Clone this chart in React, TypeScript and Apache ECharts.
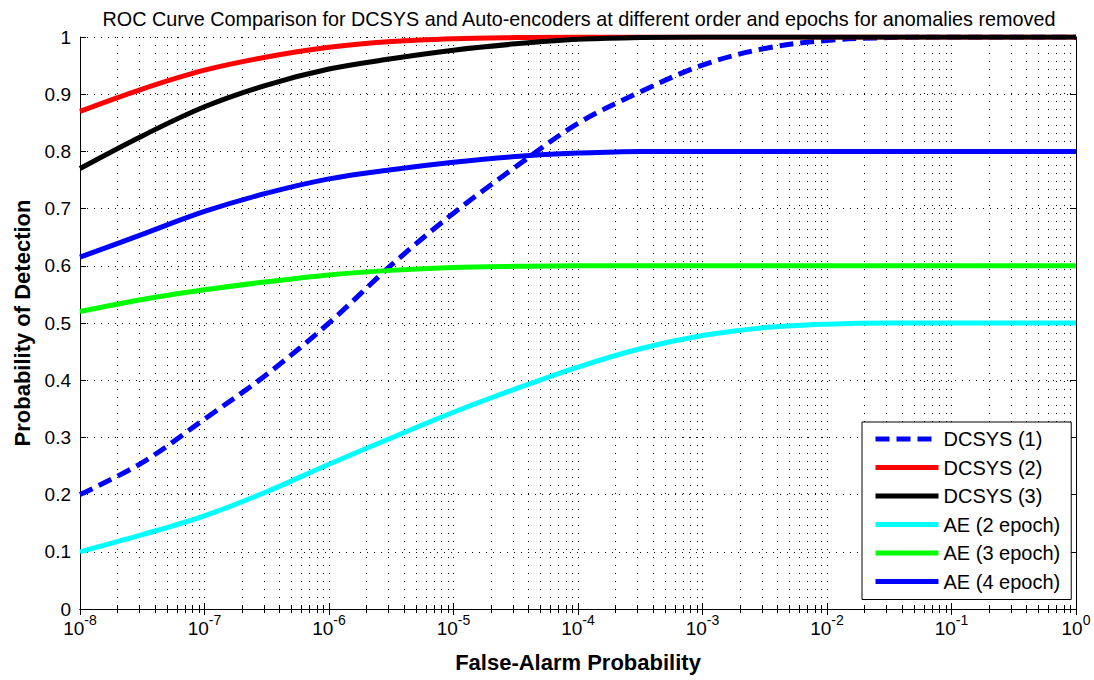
import React, { useEffect, useRef } from 'react';
import * as echarts from 'echarts';

const falseAlarm = [1e-8, 3.16e-8, 1e-7, 3.16e-7, 1e-6, 3.16e-6, 1e-5, 3.16e-5, 1e-4, 3.16e-4, 1e-3, 3.16e-3, 1e-2, 3.16e-2, 1e-1, 3.16e-1, 1];
const dcsys1 = [0.2, 0.256, 0.332, 0.41, 0.5, 0.601, 0.692, 0.773, 0.849, 0.904, 0.951, 0.98, 0.994, 0.999, 1, 1, 1];
const dcsys2 = [0.87, 0.909, 0.942, 0.965, 0.982, 0.992, 0.997, 0.999, 1, 1, 1, 1, 1, 1, 1, 1, 1];
const dcsys3 = [0.77, 0.827, 0.878, 0.916, 0.944, 0.962, 0.977, 0.988, 0.996, 0.999, 1, 1, 1, 1, 1, 1, 1];
const ae2 = [0.1, 0.13, 0.163, 0.205, 0.253, 0.299, 0.344, 0.385, 0.423, 0.455, 0.478, 0.492, 0.498, 0.5, 0.5, 0.5, 0.5];
const ae3 = [0.52, 0.541, 0.558, 0.572, 0.584, 0.592, 0.597, 0.599, 0.6, 0.6, 0.6, 0.6, 0.6, 0.6, 0.6, 0.6, 0.6];
const ae4 = [0.615, 0.655, 0.695, 0.727, 0.752, 0.768, 0.781, 0.791, 0.797, 0.8, 0.8, 0.8, 0.8, 0.8, 0.8, 0.8, 0.8];

const seriesNames = ['DCSYS (1)', 'DCSYS (2)', 'DCSYS (3)', 'AE (2 epoch)', 'AE (3 epoch)', 'AE (4 epoch)'];
const seriesValues = [dcsys1, dcsys2, dcsys3, ae2, ae3, ae4];
const seriesColors = ['#0000ff', '#ff0000', '#000000', '#00ffff', '#00ff00', '#0000ff'];

const titleText = 'ROC Curve Comparison for DCSYS and Auto-encoders at different order and epochs for anomalies removed';
const xTitle = 'False-Alarm Probability';
const yTitle = 'Probability of Detection';

const FONT = 'Liberation Sans, Arial, sans-serif';

export default function App() {
  const ref = useRef<HTMLDivElement>(null);
  useEffect(() => {
    document.body.style.margin = '0';
    const chart = echarts.init(ref.current!, null, { renderer: 'svg' });
    const dottedV = { color: '#000', width: 1, type: [1, 7] as number[] };
    const dottedH = { color: '#000', width: 1, type: [1, 6] as number[] };
    const series = seriesNames.map((name, i) => ({
      type: 'line',
      name,
      data: falseAlarm.map((x, j) => [x, seriesValues[i][j]]),
      showSymbol: false,
      symbol: 'none',
      smooth: 0.35,
      clip: true,
      lineStyle: { color: seriesColors[i], width: 5, type: i === 0 ? [14, 7] : 'solid' },
      itemStyle: { color: seriesColors[i] },
      z: 3,
    }));
    chart.setOption({
      animation: false,
      textStyle: { fontFamily: FONT },
      title: {
        text: titleText,
        left: 574,
        textAlign: 'center',
        top: 4,
        textStyle: { fontFamily: FONT, fontSize: 19.8, fontWeight: 'normal', color: '#000' },
      },
      grid: { left: 80, right: 18, top: 37, bottom: 71, containLabel: false },
      legend: {
        orient: 'vertical',
        left: 862,
        top: 422,
        data: seriesNames,
        itemWidth: 63,
        itemHeight: 2,
        itemGap: 8.5,
        padding: [7, 11, 8, 11],
        borderColor: '#000',
        borderWidth: 1,
        borderRadius: 0,
        backgroundColor: '#fff',
        lineStyle: { width: 5 },
        textStyle: { fontFamily: FONT, fontSize: 20, color: '#000', lineHeight: 20 },
        selectedMode: false,
        z: 10,
      },
      xAxis: [
        {
          type: 'log',
          logBase: 10,
          min: 1e-8,
          max: 1,
          splitNumber: 8,
          position: 'bottom',
          name: xTitle,
          nameLocation: 'middle',
          nameGap: 42,
          nameTextStyle: { fontFamily: FONT, fontSize: 22, fontWeight: 'bold', color: '#000' },
          axisLine: { lineStyle: { color: '#000', width: 1 } },
          axisTick: { inside: true, length: 6, lineStyle: { color: '#000' } },
          minorTick: { show: true, splitNumber: 9, length: 4, lineStyle: { color: '#000' } },
          minorSplitLine: { show: true, lineStyle: dottedV },
          splitLine: { show: true, lineStyle: dottedV },
          axisLabel: {
            margin: 4,
            color: '#000',
            formatter: (v: number) => `{b|10}{s|${Math.round(Math.log10(v))}}`,
            rich: {
              b: { fontFamily: FONT, fontSize: 19, color: '#000', lineHeight: 20, padding: [10, 0, 0, 0] },
              s: { fontFamily: FONT, fontSize: 14, color: '#000', lineHeight: 14, verticalAlign: 'top' },
            },
          },
        },
        {
          type: 'log',
          logBase: 10,
          min: 1e-8,
          max: 1,
          splitNumber: 8,
          position: 'top',
          axisLine: { lineStyle: { color: '#000', width: 1 } },
          axisTick: { inside: true, length: 6, lineStyle: { color: '#000' } },
          minorTick: { show: true, splitNumber: 9, length: 4, lineStyle: { color: '#000' } },
          splitLine: { show: false },
          axisLabel: { show: false },
        },
      ],
      yAxis: [
        {
          type: 'value',
          min: 0,
          max: 1,
          interval: 0.1,
          position: 'left',
          name: yTitle,
          nameLocation: 'middle',
          nameGap: 47,
          nameTextStyle: { fontFamily: FONT, fontSize: 22, fontWeight: 'bold', color: '#000' },
          axisLine: { show: true, lineStyle: { color: '#000', width: 1 } },
          axisTick: { show: true, inside: true, length: 6, lineStyle: { color: '#000' } },
          splitLine: { show: true, lineStyle: dottedH },
          axisLabel: { margin: 9, color: '#000', fontFamily: FONT, fontSize: 19 },
        },
        {
          type: 'value',
          min: 0,
          max: 1,
          interval: 0.1,
          position: 'right',
          axisLine: { show: true, lineStyle: { color: '#000', width: 1 } },
          axisTick: { show: true, inside: true, length: 6, lineStyle: { color: '#000' } },
          splitLine: { show: false },
          axisLabel: { show: false },
        },
      ],
      series,
    });
    return () => chart.dispose();
  }, []);
  return <div ref={ref} style={{ position: 'fixed', left: 0, top: 0, width: 1094, height: 680, background: '#fff' }} />;
}
